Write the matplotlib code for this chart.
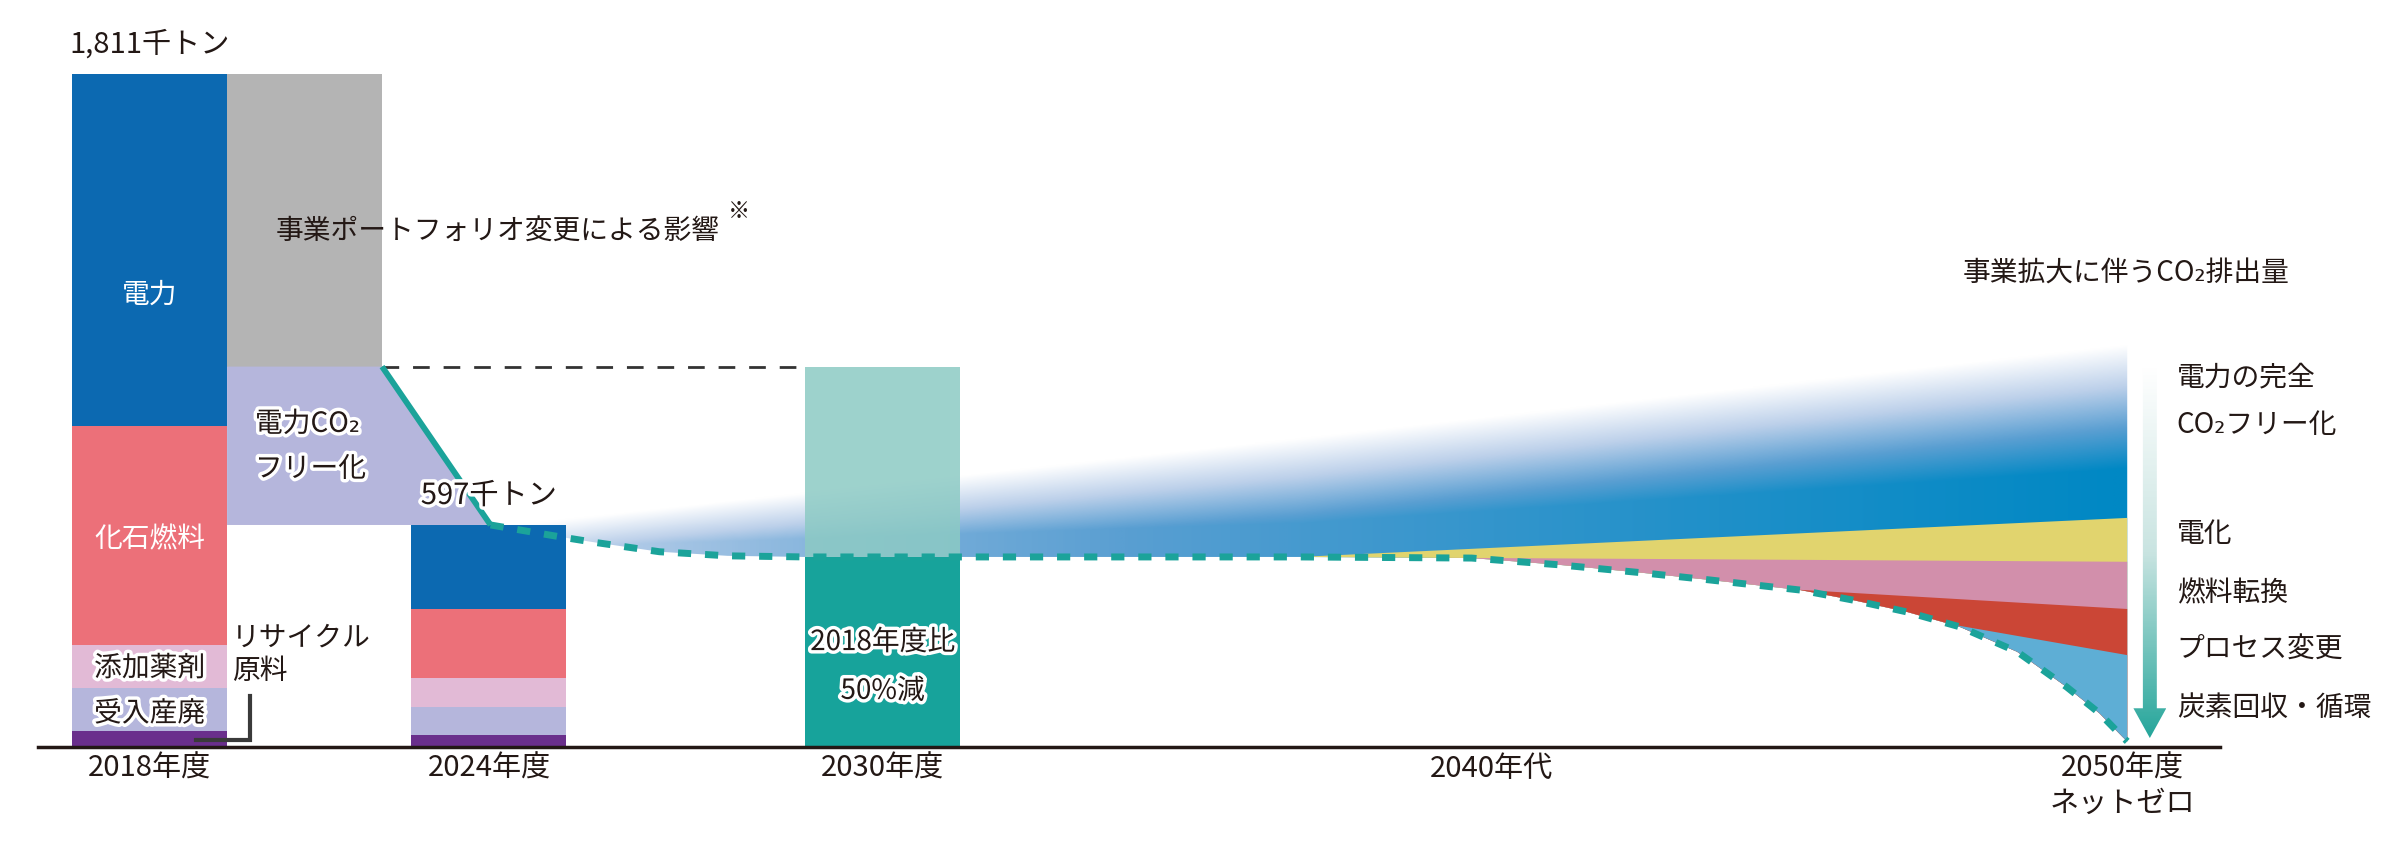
import numpy as np
import matplotlib.pyplot as plt
import matplotlib.patheffects as pe
from matplotlib.colors import LinearSegmentedColormap
from matplotlib.patches import Polygon

plt.rcParams['font.family'] = ['Noto Sans CJK JP', 'DejaVu Sans']

# --- data (千トン) ---
# stacked bars, bottom -> top: リサイクル原料, 受入産廃, 添加薬剤, 化石燃料, 電力
seg_colors = ['#6a2f8c', '#b5b6dc', '#e2bad6', '#ec7079', '#0c69b1']
val_2018 = [44, 115, 115, 590, 947]
val_2024 = [33, 75, 78, 185, 226]
total_2018 = 1811
after_portfolio = 1023   # 事業ポートフォリオ変更後
total_2024 = 597
target_2030 = 511        # 2018年度比50%減

# category positions (bar width = 1)
pos_2018 = 0.0
pos_portfolio = 1.0
pos_2024 = 2.19
pos_2030 = 4.73
tick_pos = [0.0, 2.19, 4.73, 8.66, 12.73]
tick_labels = ['2018年度', '2024年度', '2030年度', '2040年代', '2050年度\nネットゼロ']

# reduction pathway (dotted line)
path_x = [2.2, 2.65, 2.86, 3.29, 3.73, 4.23, 5.5, 7.0, 7.42, 8.53, 9.09, 9.64,
          10.07, 10.65, 10.99, 11.34, 11.68, 12.05, 12.37, 12.58, 12.73, 12.76]
path_y = [597, 565, 551, 525, 514, 511, 511, 511, 511, 508, 490, 468,
          449, 422, 395, 363, 323, 256, 161, 91, 27, 15]

# upper edge of "事業拡大に伴うCO2排出量" fan
fan_top = [(2.2, 597), (12.76, 1116)]
# measure wedges: (start on pathway, value at 2050)
band_names = ['電化', '燃料転換', 'プロセス変更', '炭素回収・循環']
band_colors = ['#e1d46e', '#d28fab', '#cb4636', '#5eaed5']
band_start = [(7.42, 511), (8.3, 509), (10.63, 423), (11.62, 330)]
band_end = [616, 498, 371, 247]
right_labels = ['電力の完全', 'CO₂フリー化', '電化', '燃料転換', 'プロセス変更', '炭素回収・循環']
right_label_y = [993, 866, 573, 414, 264, 105]

ink = '#231815'
teal = '#1ba39a'
halo = [pe.withStroke(linewidth=5, foreground='white')]

fig = plt.figure(figsize=(24, 8.41), dpi=100)
ax = fig.add_axes([0, 0, 1, 1])

# stacked bars
for pos, vals in [(pos_2018, val_2018), (pos_2024, val_2024)]:
    bottom = 0
    for v, c in zip(vals, seg_colors):
        ax.bar(pos, v, bottom=bottom, width=1, color=c, zorder=3)
        bottom += v

# portfolio change (gray) and 電力CO2フリー化 (lavender trapezoid)
ax.bar(pos_portfolio, total_2018 - after_portfolio, bottom=after_portfolio,
       width=1, color='#b4b4b4', zorder=3)
ax.add_patch(Polygon([(pos_portfolio - 0.5, after_portfolio),
                      (pos_portfolio + 0.5, after_portfolio),
                      (path_x[0], total_2024),
                      (pos_portfolio - 0.5, total_2024)],
                     closed=True, color='#b5b6dc', lw=0, zorder=3))

# fan of growth emissions with gradient
x0, y0 = fan_top[0]
x1, y1 = fan_top[1]
fan_verts = [fan_top[0], fan_top[1]] + list(zip(path_x[::-1], path_y[::-1]))[:-1]
fan_patch = Polygon(fan_verts, closed=True, facecolor='none', edgecolor='none')
ax.add_patch(fan_patch)
gx = np.linspace(x0, x1, 500)
gy = np.linspace(0, y1, 400)
GX, GY = np.meshgrid(gx, gy)
top = y0 + (y1 - y0) * (GX - x0) / (x1 - x0)
bot = np.where(GX < band_start[0][0], target_2030,
               band_start[0][1] + (band_end[0] - band_start[0][1]) *
               (GX - band_start[0][0]) / (x1 - band_start[0][0]))
v = np.clip((top - GY) / np.maximum(top - bot, 1), 0, 1)
h = np.clip((GX - x0) / (x1 - x0), 0, 1)
val = np.clip(v * 1.5 - 0.1, 0, 1) * (0.12 + 0.88 * h ** 0.5)
fan_cmap = LinearSegmentedColormap.from_list(
    'fan', ['#ffffff', '#bcd0ea', '#5a9fd2', '#0088c4'])
im = ax.imshow(val, extent=[x0, x1, 0, y1], origin='lower', aspect='auto',
               cmap=fan_cmap, vmin=0, vmax=1, interpolation='bilinear', zorder=1)
im.set_clip_path(fan_patch)

# reduction wedges
for (sx, sy), ey, c in zip(band_start, band_end, band_colors):
    verts = [(sx, sy), (x1, ey)] + [(px, py) for px, py in
                                     zip(path_x[::-1], path_y[::-1]) if sx < px <= x1]
    ax.add_patch(Polygon(verts, closed=True, color=c, lw=0, zorder=2))

# 2030 target bar
ax.bar(pos_2030, after_portfolio - target_2030, bottom=target_2030, width=1,
       color='#8ccac4', alpha=0.85, zorder=3)
ax.bar(pos_2030, target_2030, width=1, color='#17a39b', zorder=3)

# lines
ax.plot([pos_portfolio + 0.5, pos_2030 - 0.5], [after_portfolio, after_portfolio],
        color='#333333', lw=2, dashes=(6, 5), zorder=4)
ax.plot([pos_portfolio + 0.5, path_x[0]], [after_portfolio, total_2024],
        color=teal, lw=4.2, solid_capstyle='butt', zorder=4)
ax.plot(path_x, path_y, color=teal, lw=5, dashes=(1.9, 2.0), zorder=4)

# bracket for リサイクル原料
ax.plot([0.30, 0.645, 0.645], [19, 19, 137], color='#3a3a3a', lw=3,
        solid_joinstyle='miter', zorder=4)

# gradient arrow
ax_x = 12.906
shaft_w, head_w, tip, head_top, arrow_top = 0.045, 0.106, 24, 104, 1020
arrow = Polygon([(ax_x - shaft_w, arrow_top), (ax_x + shaft_w, arrow_top),
                 (ax_x + shaft_w, head_top), (ax_x + head_w, head_top),
                 (ax_x, tip), (ax_x - head_w, head_top), (ax_x - shaft_w, head_top)],
                closed=True, facecolor='none', edgecolor='none')
ax.add_patch(arrow)
arr_cmap = LinearSegmentedColormap.from_list('arr', ['#ffffff', '#c9e4e1', '#26a69b'])
ay = np.linspace(0, 1, 200)[:, None] * np.ones((1, 4))
aim = ax.imshow(ay[::-1], extent=[ax_x - head_w, ax_x + head_w, tip, arrow_top],
                origin='lower', aspect='auto', cmap=arr_cmap, zorder=4)
aim.set_clip_path(arrow)

# texts
fs = 20
ax.text(pos_2018, 1890, '1,811千トン', ha='center', va='center', fontsize=21, color=ink)
ax.text(0.815, 1388, '事業ポートフォリオ変更による影響', ha='left', va='center',
        fontsize=fs, color=ink, zorder=5)
ax.text(3.73, 1440, '※', ha='left', va='center', fontsize=16, color=ink)
ax.text(pos_2018, 1216, '電力', ha='center', va='center', fontsize=fs, color='white', zorder=5)
ax.text(pos_2018, 559, '化石燃料', ha='center', va='center', fontsize=fs, color='white', zorder=5)
ax.text(pos_2018, 212, '添加薬剤', ha='center', va='center', fontsize=fs, color=ink,
        path_effects=halo, zorder=5)
ax.text(pos_2018, 90, '受入産廃', ha='center', va='center', fontsize=fs, color=ink,
        path_effects=halo, zorder=5)
ax.text(0.53, 293, 'リサイクル', ha='left', va='center', fontsize=fs, color=ink, zorder=5)
ax.text(0.53, 205, '原料', ha='left', va='center', fontsize=fs, color=ink, zorder=5)
ax.text(0.68, 869, '電力CO₂', ha='left', va='center', fontsize=fs, color=ink,
        path_effects=halo, zorder=5)
ax.text(0.68, 748, 'フリー化', ha='left', va='center', fontsize=fs, color=ink,
        path_effects=halo, zorder=5)
ax.text(1.75, 675, '597千トン', ha='left', va='center', fontsize=21, color=ink,
        path_effects=halo, zorder=6)
ax.text(pos_2030, 282, '2018年度比', ha='center', va='center', fontsize=fs, color=ink,
        path_effects=halo, zorder=5)
ax.text(pos_2030, 151, '50%減', ha='center', va='center', fontsize=fs, color=ink,
        path_effects=halo, zorder=5)
ax.text(12.75, 1272, '事業拡大に伴うCO₂排出量', ha='center', va='center', fontsize=fs, color=ink)
for lbl, y in zip(right_labels, right_label_y):
    ax.text(13.08, y, lbl, ha='left', va='center', fontsize=fs, color=ink)

# axis
for s in ['top', 'right', 'left']:
    ax.spines[s].set_visible(False)
ax.spines['bottom'].set_position(('data', 0))
ax.spines['bottom'].set_bounds(-0.72, 13.36)
ax.spines['bottom'].set_linewidth(2.5)
ax.spines['bottom'].set_color(ink)
ax.spines['bottom'].set_zorder(6)
ax.set_xticks(tick_pos, tick_labels)
ax.tick_params(axis='x', length=0, pad=5, labelsize=21, labelcolor=ink)
ax.set_yticks([])
ax.set_xlim(-0.965, 14.52)
ax.set_ylim(-253, 2009)

fig.savefig('out.png', dpi=100, facecolor='white')
